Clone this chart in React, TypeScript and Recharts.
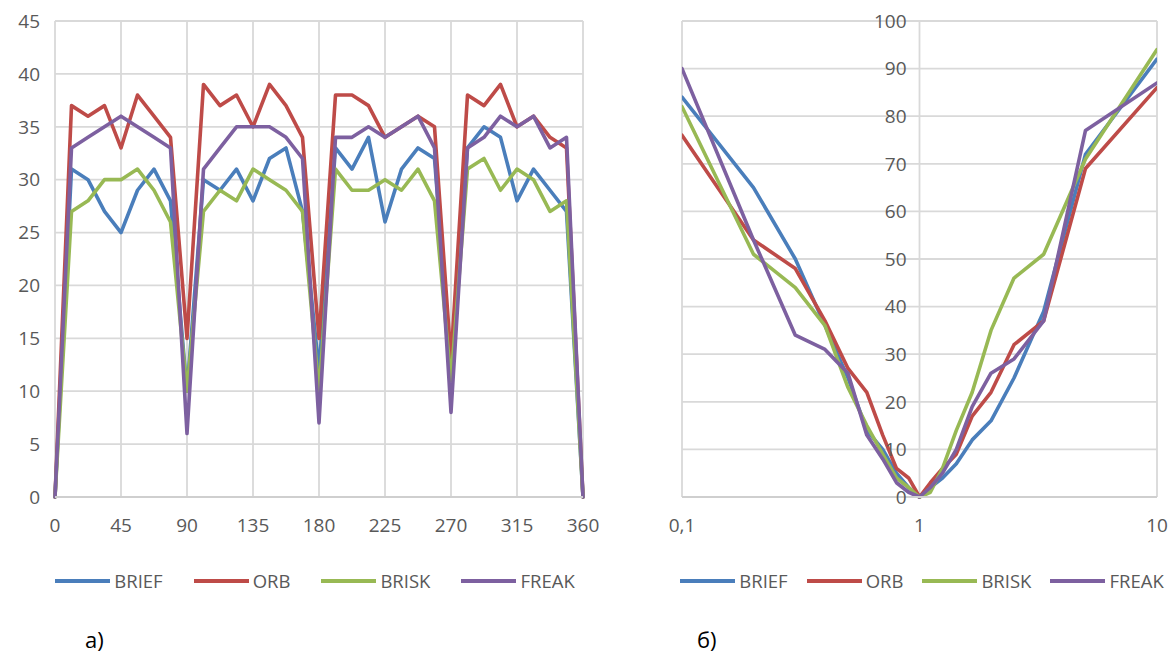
import React from "react";
import { LineChart, Line, XAxis, YAxis, CartesianGrid } from "recharts";

// ---------- Chart а) : angle (degrees) ----------
const ANGLES = [
  0, 11.25, 22.5, 33.75, 45, 56.25, 67.5, 78.75, 90, 101.25, 112.5, 123.75, 135,
  146.25, 157.5, 168.75, 180, 191.25, 202.5, 213.75, 225, 236.25, 247.5, 258.75,
  270, 281.25, 292.5, 303.75, 315, 326.25, 337.5, 348.75, 360,
];
const BRIEF_A = [0, 31, 30, 27, 25, 29, 31, 28, 10, 30, 29, 31, 28, 32, 33, 27, 12, 33, 31, 34, 26, 31, 33, 32, 12, 33, 35, 34, 28, 31, 29, 27, 0];
const ORB_A = [0, 37, 36, 37, 33, 38, 36, 34, 15, 39, 37, 38, 35, 39, 37, 34, 15, 38, 38, 37, 34, 35, 36, 35, 13, 38, 37, 39, 35, 36, 34, 33, 0];
const BRISK_A = [0, 27, 28, 30, 30, 31, 29, 26, 10, 27, 29, 28, 31, 30, 29, 27, 10, 31, 29, 29, 30, 29, 31, 28, 11, 31, 32, 29, 31, 30, 27, 28, 0];
const FREAK_A = [0, 33, 34, 35, 36, 35, 34, 33, 6, 31, 33, 35, 35, 35, 34, 32, 7, 34, 34, 35, 34, 35, 36, 33, 8, 33, 34, 36, 35, 36, 33, 34, 0];
const X_TICKS_A = [0, 45, 90, 135, 180, 225, 270, 315, 360];
const Y_TICKS_A = [0, 5, 10, 15, 20, 25, 30, 35, 40, 45];

// ---------- Chart б) : scale (log) ----------
const SCALES = [0.1, 0.2, 0.3, 0.4, 0.5, 0.6, 0.7, 0.8, 0.9, 1, 1.111, 1.25, 1.429, 1.667, 2, 2.5, 3.333, 5, 10];
const BRIEF_B = [84, 65, 50, 36, 25, 14, 10, 5, 2, 0, 2, 4, 7, 12, 16, 25, 39, 72, 92];
const ORB_B = [76, 54, 48, 37, 27, 22, 13, 6, 4, 0, 3, 6, 9, 17, 22, 32, 37, 69, 86];
const BRISK_B = [82, 51, 44, 36, 23, 15, 9, 4, 2, 0, 1, 6, 14, 22, 35, 46, 51, 71, 94];
const FREAK_B = [90, 54, 34, 31, 26, 13, 8, 3, 1, 0, 2, 5, 10, 19, 26, 29, 37, 77, 87];
const X_TICKS_B = [0.1, 1, 10];
const Y_TICKS_B = [0, 10, 20, 30, 40, 50, 60, 70, 80, 90, 100];

const SERIES = [
  { key: "BRIEF", color: "#4A7EBB" },
  { key: "ORB", color: "#BE4B48" },
  { key: "BRISK", color: "#98B954" },
  { key: "FREAK", color: "#7D60A0" },
];

const dataA = ANGLES.map((a, i) => ({
  x: a,
  BRIEF: BRIEF_A[i],
  ORB: ORB_A[i],
  BRISK: BRISK_A[i],
  FREAK: FREAK_A[i],
}));
const dataB = SCALES.map((s, i) => ({
  x: s,
  BRIEF: BRIEF_B[i],
  ORB: ORB_B[i],
  BRISK: BRISK_B[i],
  FREAK: FREAK_B[i],
}));

const FONT = "'Open Sans', 'DejaVu Sans', sans-serif";
const TICK_COLOR = "#595959";
const GRID = "#d9d9d9";
const tickStyle = { fontFamily: FONT, fontSize: 19, fill: TICK_COLOR };

const CH_H = 540;
const MT = 21;
const XAXIS_H = 43;
const YAXIS_W = 55;

// chart б geometry
const B_W = 546;
const B_MR = 16;
const B_PLOT_W = B_W - YAXIS_W - B_MR;
const Y_LABEL_SHIFT = B_PLOT_W / 2 - 13; // labels sit next to the x = 1 gridline

const RightYTick = (props: any) => {
  const { x, y, payload } = props;
  return (
    <text
      x={x + Y_LABEL_SHIFT}
      y={y}
      dy="0.355em"
      textAnchor="end"
      fontFamily={FONT}
      fontSize={19}
      fill={TICK_COLOR}
    >
      {payload.value}
    </text>
  );
};

const Legend = ({ left, width, gap }: { left: number; width: number; gap: number }) => (
  <div
    style={{
      position: "absolute",
      left,
      top: 568,
      width,
      display: "flex",
      justifyContent: "center",
      gap,
      fontFamily: FONT,
      fontSize: 18.5,
      color: TICK_COLOR,
      lineHeight: "26px",
    }}
  >
    {SERIES.map((s) => (
      <div key={s.key} style={{ display: "flex", alignItems: "center" }}>
        <div style={{ width: 55, height: 4, background: s.color, marginRight: 4 }} />
        <span>{s.key}</span>
      </div>
    ))}
  </div>
);

const lines = () =>
  SERIES.map((s) => (
    <Line
      key={s.key}
      type="linear"
      dataKey={s.key}
      stroke={s.color}
      strokeWidth={3.6}
      dot={false}
      activeDot={false}
      isAnimationActive={false}
      strokeLinejoin="round"
      strokeLinecap="round"
    />
  ));

export default function App() {
  return (
    <div style={{ position: "absolute", left: 0, top: 0, width: 1173, height: 654, background: "#fff" }}>
      <div style={{ position: "absolute", left: 0, top: 0 }}>
        <LineChart width={600} height={CH_H} data={dataA} margin={{ top: MT, right: 17, left: 0, bottom: 0 }}>
          <CartesianGrid stroke={GRID} strokeWidth={1.8} />
          <XAxis
            dataKey="x"
            type="number"
            domain={[0, 360]}
            ticks={X_TICKS_A}
            height={XAXIS_H}
            tick={tickStyle}
            tickLine={false}
            tickSize={0}
            tickMargin={22}
            axisLine={{ stroke: "#cfcfcf", strokeWidth: 1.8 }}
            interval={0}
          />
          <YAxis
            type="number"
            domain={[0, 45]}
            ticks={Y_TICKS_A}
            width={YAXIS_W}
            tick={tickStyle}
            tickLine={false}
            tickSize={0}
            tickMargin={15}
            axisLine={false}
            interval={0}
          />
          {lines()}
        </LineChart>
      </div>
      <div style={{ position: "absolute", left: 627, top: 0 }}>
        <LineChart width={B_W} height={CH_H} data={dataB} margin={{ top: MT, right: B_MR, left: 0, bottom: 0 }}>
          <CartesianGrid stroke={GRID} strokeWidth={1.8} />
          <XAxis
            dataKey="x"
            type="number"
            scale="log"
            domain={[0.1, 10]}
            ticks={X_TICKS_B}
            tickFormatter={(v: number) => String(v).replace(".", ",")}
            height={XAXIS_H}
            tick={tickStyle}
            tickLine={false}
            tickSize={0}
            tickMargin={22}
            axisLine={{ stroke: "#cfcfcf", strokeWidth: 1.8 }}
            interval={0}
            allowDataOverflow
          />
          <YAxis
            type="number"
            domain={[0, 100]}
            ticks={Y_TICKS_B}
            width={YAXIS_W}
            tick={<RightYTick />}
            tickLine={false}
            tickSize={0}
            tickMargin={0}
            axisLine={false}
            interval={0}
          />
          {lines()}
        </LineChart>
      </div>
      <Legend left={40} width={550} gap={31} />
      <Legend left={660} width={524} gap={19} />
      <div style={{ position: "absolute", left: 85, top: 624, fontFamily: FONT, fontSize: 22, color: "#000" }}>а)</div>
      <div style={{ position: "absolute", left: 697, top: 624, fontFamily: FONT, fontSize: 22, color: "#000" }}>б)</div>
    </div>
  );
}
